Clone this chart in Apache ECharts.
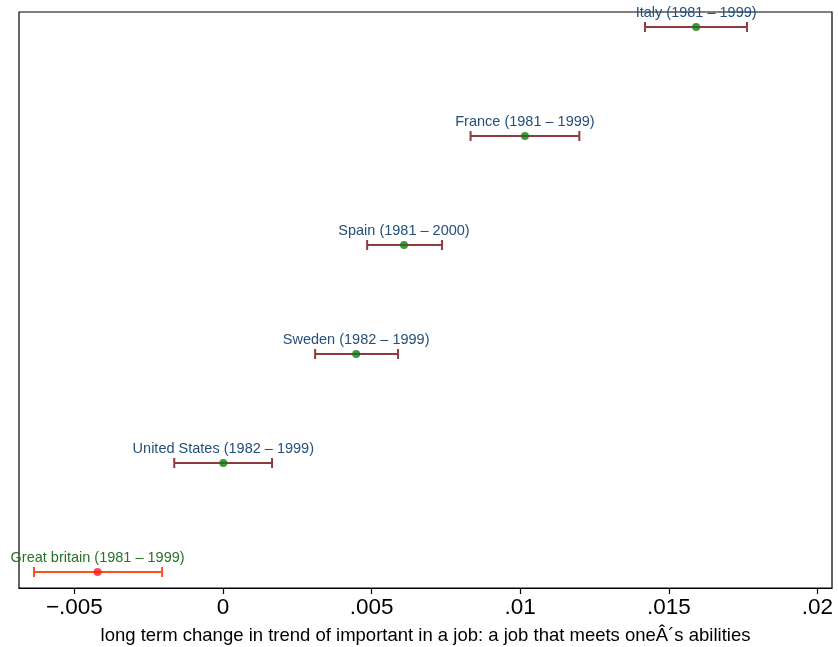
<!DOCTYPE html>
<html><head><meta charset="utf-8">
<script src="https://cdn.jsdelivr.net/npm/echarts@6/dist/echarts.min.js"></script>
<style>html,body{margin:0;padding:0;background:#fff}#c{width:838px;height:647px}</style>
</head><body><div id="c"></div>
<script>
var labels = ["Great britain (1981 – 1999)","United States (1982 – 1999)","Sweden (1982 – 1999)","Spain (1981 – 2000)","France (1981 – 1999)","Italy (1981 – 1999)"];
var positions = [1,2,3,4,5,6];
var estimates = [-0.00422, 0.00001, 0.00448, 0.00609, 0.01016, 0.01592];
var lower = [-0.00636, -0.00164, 0.00310, 0.00485, 0.00833, 0.01420];
var upper = [-0.00205, 0.00165, 0.00589, 0.00737, 0.01199, 0.01763];
var tickValues = [-0.005, 0, 0.005, 0.01, 0.015, 0.02];
var axisTitle = "long term change in trend of important in a job: a job that meets oneÂ´s abilities";

var ciData = labels.map(function(l,i){return [lower[i], upper[i], positions[i], estimates[i], i];});
var ptData = labels.map(function(l,i){return {value:[estimates[i], positions[i]], itemStyle:{color: i===0 ? '#ff1a1a' : '#127c12'}};});

function fmt(v){
  if (Math.abs(v) < 1e-12) return '0';
  var s = String(Math.round(v*1000)/1000);
  s = s.replace('0.', '.');
  s = s.replace('-', '−');
  return s;
}

var chart = echarts.init(document.getElementById('c'));
chart.setOption({
  animation:false,
  grid:{left:19, right:6, top:12, bottom:59, outerBoundsMode:'none', containLabel:false, show:true, borderColor:'#000', borderWidth:1.2, backgroundColor:'#fff'},
  xAxis:{type:'value', min:-0.006864, max:0.020491,
    axisLine:{show:true, lineStyle:{color:'#000', width:1.2}},
    axisTick:{show:true, customValues:tickValues, length:6, lineStyle:{color:'#000', width:1.2}},
    axisLabel:{customValues:tickValues, formatter:fmt, fontSize:22.5, color:'#000', fontFamily:'Liberation Sans, Arial', margin:8},
    splitLine:{show:false},
    name:axisTitle, nameLocation:'middle', nameGap:38,
    nameTextStyle:{fontSize:18.5, color:'#000', fontFamily:'Liberation Sans, Arial'}},
  yAxis:{type:'value', min:0.853, max:6.1376, show:false, splitLine:{show:false}},
  series:[
    {type:'custom', data:ciData, z:2,
     renderItem:function(params, api){
       var lo = api.coord([api.value(0), api.value(2)]);
       var hi = api.coord([api.value(1), api.value(2)]);
       var pt = api.coord([api.value(3), api.value(2)]);
       var idx = api.value(4);
       var col = idx===0 ? '#ff4f1f' : '#8f3a3f';
       var tcol = idx===0 ? '#267326' : '#244f7c';
       var st = {stroke:col, lineWidth:2};
       return {type:'group', children:[
         {type:'line', shape:{x1:lo[0], y1:lo[1], x2:hi[0], y2:hi[1]}, style:st},
         {type:'line', shape:{x1:lo[0], y1:lo[1]-5, x2:lo[0], y2:lo[1]+5}, style:st},
         {type:'line', shape:{x1:hi[0], y1:hi[1]-5, x2:hi[0], y2:hi[1]+5}, style:st},
         {type:'text', x:pt[0], y:pt[1]-6, style:{text:labels[idx], fill:tcol, fontSize:14.5, fontFamily:'Liberation Sans, Arial', align:'center', verticalAlign:'bottom'}}
       ]};
     }},
    {type:'scatter', data:ptData, symbol:'circle', symbolSize:8, z:3}
  ]
});
</script></body></html>
